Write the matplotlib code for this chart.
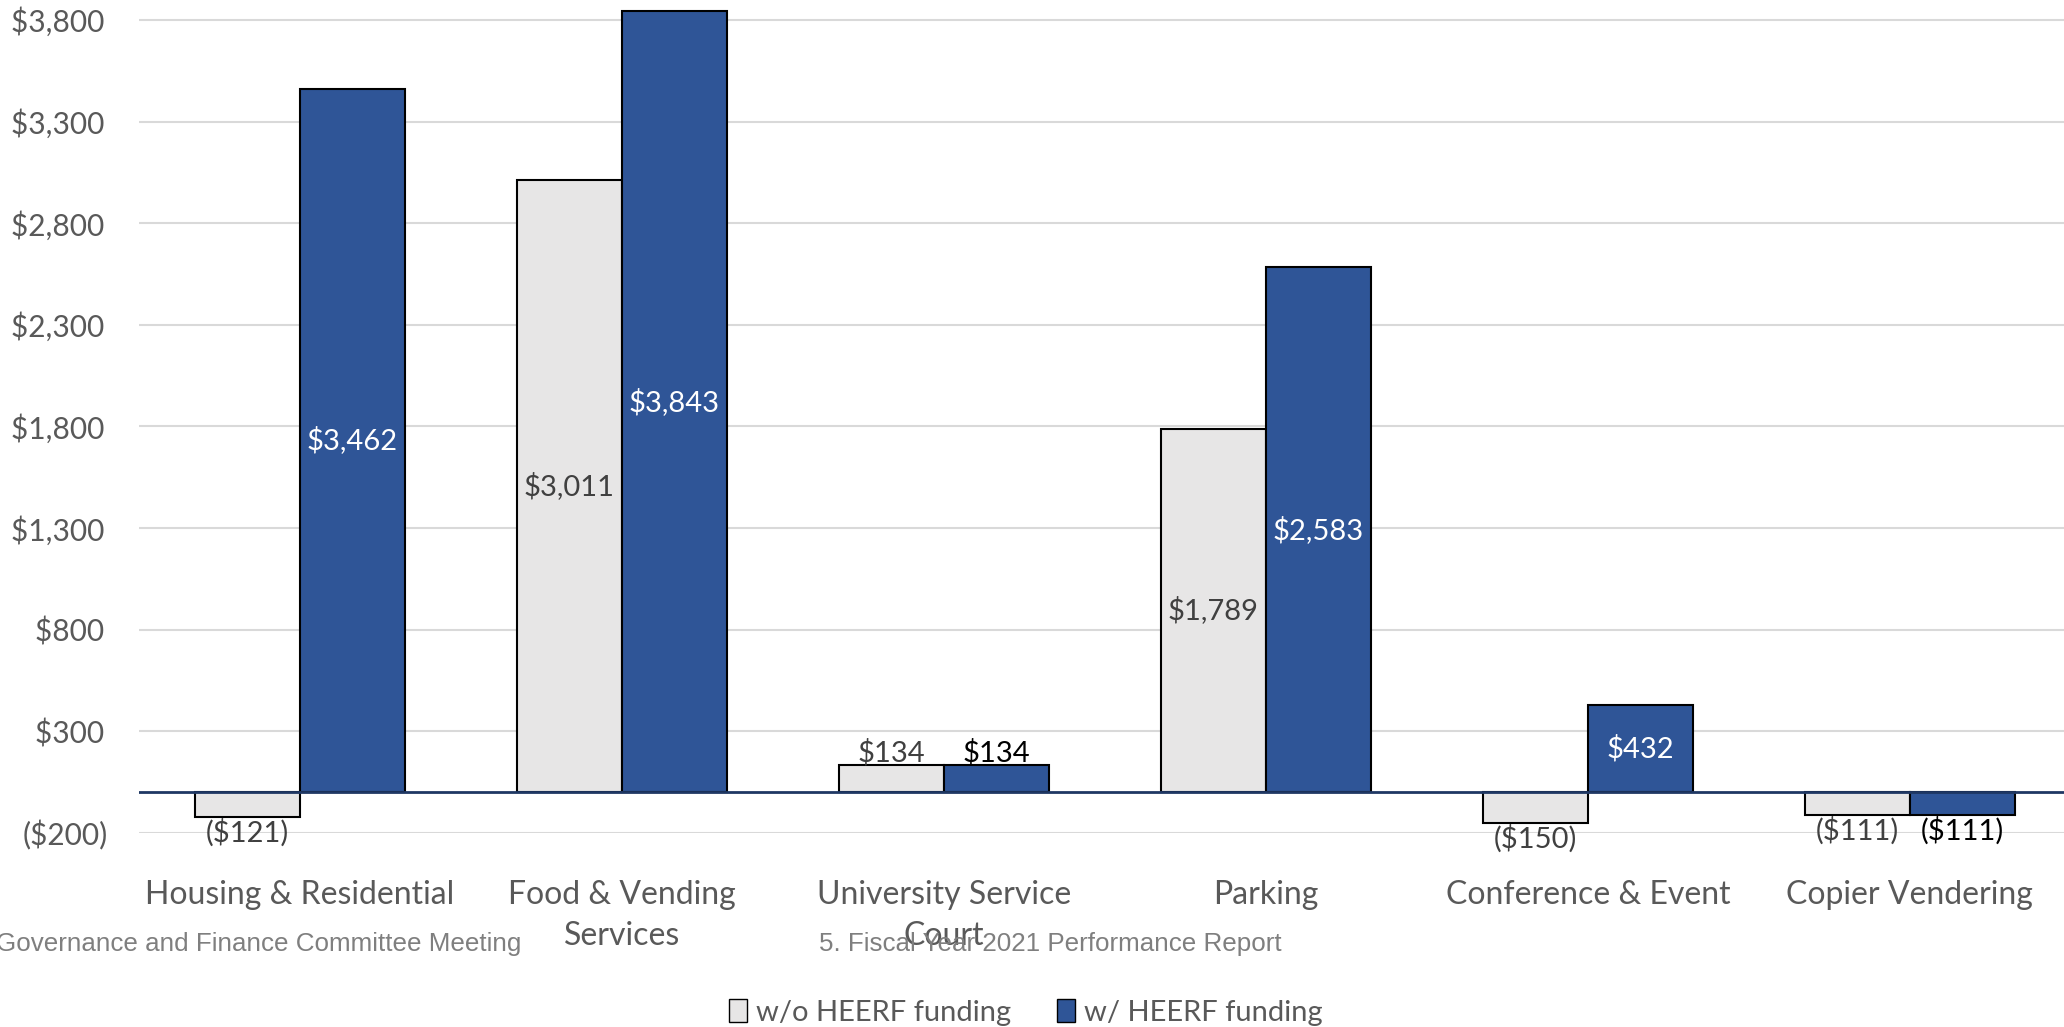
import matplotlib.pyplot as plt
import numpy as np
from matplotlib.patches import Patch

plt.rcParams['font.family'] = ['Lato', 'DejaVu Sans']

# Data
categories = ["Housing & Residential", "Food & Vending\nServices", "University Service\nCourt",
              "Parking", "Conference & Event", "Copier Vendering"]
without_heerf = [-121, 3011, 134, 1789, -150, -111]
with_heerf = [3462, 3843, 134, 2583, 432, -111]
yticks = [-200, 300, 800, 1300, 1800, 2300, 2800, 3300, 3800]

grey = '#E7E6E6'
blue = '#2F5597'
text_grey = '#595959'


def money(v):
    if v < 0:
        return f"(${-v:,.0f})"
    return f"${v:,.0f}\u2009"


def label(v):
    if v < 0:
        return f"(${-v:,.0f})"
    return f"${v:,.0f}"


fig = plt.figure(figsize=(20.64, 10.27), dpi=100)
ax = fig.add_axes([0.0673, 0.1889, 0.936, 0.8111])

x = np.arange(len(categories))
w = 0.327
ax.bar(x - w / 2, without_heerf, w, color=grey, edgecolor='black', linewidth=1.5, zorder=3)
ax.bar(x + w / 2, with_heerf, w, color=blue, edgecolor='black', linewidth=1.5, zorder=3)

ax.axhline(0, color='#1F3864', linewidth=2, zorder=4)

ax.set_ylim(-200, 3898)
ax.set_xlim(-0.5, len(categories) - 0.5)
ax.set_yticks(yticks)
ax.set_yticklabels([money(v) for v in yticks])
ax.yaxis.grid(True, color='#D9D9D9', linewidth=1.5, zorder=0)
ax.set_axisbelow(True)
ax.tick_params(axis='y', length=0, pad=22, labelsize=21.5, labelcolor=text_grey)
ax.set_xticks(x)
ax.set_xticklabels(categories, linespacing=1.45)
ax.tick_params(axis='x', length=0, pad=34, labelsize=23, labelcolor=text_grey)
for s in ax.spines.values():
    s.set_visible(False)

# Data labels
for series, offset, inside_color, outside_color in [
        (without_heerf, -w / 2, '#404040', '#404040'),
        (with_heerf, w / 2, 'white', 'black')]:
    for xi, v in zip(x, series):
        if abs(v) > 300:
            ax.text(xi + offset, v / 2, label(v), ha='center', va='center',
                    fontsize=21, color=inside_color, zorder=5)
        elif v >= 0:
            ax.annotate(label(v), (xi + offset, v), xytext=(0, 9), textcoords='offset points',
                        ha='center', va='center', fontsize=21, color=outside_color, zorder=5)
        else:
            ax.annotate(label(v), (xi + offset, v), xytext=(0, -11), textcoords='offset points',
                        ha='center', va='center', fontsize=21, color=outside_color, zorder=5)

# Footer text
fig.text(-0.002, 0.081, "Governance and Finance Committee Meeting", ha='left', va='center',
         fontsize=18.7, color='#7F7F7F', family='Liberation Sans')
fig.text(0.509, 0.081, "5. Fiscal Year 2021 Performance Report", ha='center', va='center',
         fontsize=18.7, color='#7F7F7F', family='Liberation Sans')

handles = [Patch(facecolor=grey, edgecolor='black', label='w/o HEERF funding'),
           Patch(facecolor=blue, edgecolor='black', label='w/ HEERF funding')]
fig.legend(handles=handles, loc='center', bbox_to_anchor=(0.497, 0.014), ncol=2, frameon=False,
           fontsize=21, labelcolor=text_grey, handlelength=0.6, handleheight=0.8,
           handletextpad=0.3, columnspacing=1.6)

fig.savefig('out.png', dpi=100)
